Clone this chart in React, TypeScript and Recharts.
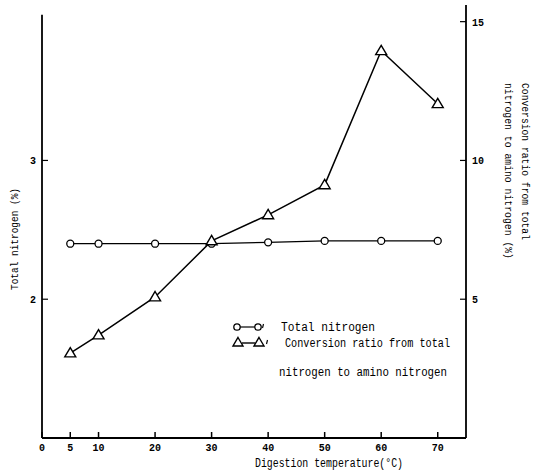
import React from 'react';
import { LineChart, Line, XAxis, YAxis, ReferenceLine } from 'recharts';

const temps = [5, 10, 20, 30, 40, 50, 60, 70];
const totalNitrogen = [2.4, 2.4, 2.4, 2.4, 2.41, 2.42, 2.42, 2.42];
const conversionRatio = [3.06, 3.71, 5.08, 7.1, 8.04, 9.12, 13.95, 12.04];
const xTicks = [0, 5, 10, 20, 30, 40, 50, 60, 70];
const leftTicks = [2, 3];
const rightTicks = [5, 10, 15];

const data = temps.map((t, i) => ({ t, tn: totalNitrogen[i], cr: conversionRatio[i] }));

const FONT = '"Liberation Mono", "DejaVu Sans Mono", monospace';

const XTick = (props: any) => {
  const { x, y, payload } = props;
  return (
    <g>
      <line x1={x} x2={x} y1={y} y2={y - 6} stroke="#000" strokeWidth={1.5} />
      <text x={x} y={y + 13} textAnchor="middle" fontSize={10} fontWeight="bold" fontFamily={FONT} fill="#000">
        {payload.value}
      </text>
    </g>
  );
};

const LeftTick = (props: any) => {
  const { x, y, payload } = props;
  return (
    <g>
      <line x1={x} x2={x + 6} y1={y} y2={y} stroke="#000" strokeWidth={1.2} />
      <text x={x - 6} y={y + 4} textAnchor="end" fontSize={10} fontWeight="bold" fontFamily={FONT} fill="#000">
        {payload.value}
      </text>
    </g>
  );
};

const RightTick = (props: any) => {
  const { x, y, payload } = props;
  return (
    <g>
      <line x1={x} x2={x - 6} y1={y} y2={y} stroke="#000" strokeWidth={1.2} />
      <text x={x + 6} y={y + 4} textAnchor="start" fontSize={10} fontWeight="bold" fontFamily={FONT} fill="#000">
        {payload.value}
      </text>
    </g>
  );
};

const CircleDot = (props: any) => {
  const { cx, cy, index } = props;
  return <circle key={index} cx={cx} cy={cy} r={3.5} fill="#fff" stroke="#000" strokeWidth={1.3} />;
};

const TriDot = (props: any) => {
  const { cx, cy, index } = props;
  const s = 5.5;
  return (
    <path
      key={index}
      d={`M${cx},${cy - s} L${cx + s},${cy + s * 0.7} L${cx - s},${cy + s * 0.7} Z`}
      fill="#fff"
      stroke="#000"
      strokeWidth={1.4}
    />
  );
};

const LegendBox = () => (
  <g transform="translate(225,312)">
    <line x1={14} x2={31} y1={15} y2={15} stroke="#000" strokeWidth={1.2} />
    <circle cx={12} cy={15} r={3.2} fill="#fff" stroke="#000" strokeWidth={1.3} />
    <circle cx={33} cy={15} r={3.2} fill="#fff" stroke="#000" strokeWidth={1.3} />
    <line x1={38.5} x2={37.5} y1={12} y2={16} stroke="#000" strokeWidth={1.2} />
    <text x={56} y={19} fontSize={12} fontFamily={FONT} fill="#000" textLength={94} lengthAdjust="spacingAndGlyphs">
      Total nitrogen
    </text>
    <line x1={17} x2={30} y1={31} y2={31} stroke="#000" strokeWidth={1.4} />
    <path d="M13,25.5 L18,34 L8,34 Z" fill="#fff" stroke="#000" strokeWidth={1.4} />
    <path d="M34,25.5 L39,34 L29,34 Z" fill="#fff" stroke="#000" strokeWidth={1.4} />
    <line x1={42.5} x2={41.5} y1={28} y2={32} stroke="#000" strokeWidth={1.2} />
    <text x={60} y={35} fontSize={12} fontFamily={FONT} fill="#000" textLength={165} lengthAdjust="spacingAndGlyphs">
      Conversion ratio from total
    </text>
    <text x={54} y={64} fontSize={12} fontFamily={FONT} fill="#000" textLength={168} lengthAdjust="spacingAndGlyphs">
      nitrogen to amino nitrogen
    </text>
  </g>
);

export default function App() {
  return (
    <div style={{ position: 'absolute', left: 0, top: 0, width: 544, height: 474, background: '#fff' }}>
      <LineChart width={544} height={474} data={data} margin={{ top: 5, right: 0, bottom: 0, left: 0 }}>
        <XAxis
          dataKey="t"
          type="number"
          domain={[0, 75]}
          ticks={xTicks}
          allowDataOverflow
          height={36}
          tickSize={0}
          tickMargin={0}
          tickLine={false}
          tick={<XTick />}
          axisLine={{ stroke: '#000', strokeWidth: 1.8 }}
          interval={0}
        />
        <YAxis
          yAxisId="left"
          orientation="left"
          type="number"
          domain={[1, 4.12]}
          allowDataOverflow
          ticks={leftTicks}
          width={42}
          tickSize={0}
          tickMargin={0}
          tickLine={false}
          tick={<LeftTick />}
          axisLine={false}
          interval={0}
        />
        <YAxis
          yAxisId="right"
          orientation="right"
          type="number"
          domain={[0, 15.6]}
          allowDataOverflow
          ticks={rightTicks}
          width={78}
          tickSize={0}
          tickMargin={0}
          tickLine={false}
          tick={<RightTick />}
          axisLine={{ stroke: '#000', strokeWidth: 1.8 }}
          interval={0}
        />
        <ReferenceLine
          yAxisId="left"
          segment={[{ x: 0, y: 1 }, { x: 0, y: 4.05 }]}
          stroke="#000"
          strokeWidth={1.8}
          ifOverflow="visible"
        />
        <Line
          yAxisId="left"
          dataKey="tn"
          stroke="#000"
          strokeWidth={1.2}
          dot={<CircleDot />}
          isAnimationActive={false}
        />
        <Line
          yAxisId="right"
          dataKey="cr"
          stroke="#000"
          strokeWidth={1.5}
          dot={<TriDot />}
          isAnimationActive={false}
        />
      </LineChart>
      <svg width={544} height={474} style={{ position: 'absolute', left: 0, top: 0, pointerEvents: 'none' }}>
        <LegendBox />
        <text x={255} y={467} fontSize={12} fontFamily={FONT} fill="#000" textLength={148} lengthAdjust="spacingAndGlyphs">
          Digestion temperature(°C)
        </text>
        <text
          transform="translate(18,239) rotate(-90)"
          textAnchor="middle"
          fontSize={11}
          fontFamily={FONT}
          fill="#000"
          textLength={102}
          lengthAdjust="spacingAndGlyphs"
        >
          Total nitrogen (%)
        </text>
        <text
          transform="translate(522,83) rotate(90)"
          textAnchor="start"
          fontSize={11}
          fontFamily={FONT}
          fill="#000"
          textLength={157}
          lengthAdjust="spacingAndGlyphs"
        >
          Conversion ratio from total
        </text>
        <text
          transform="translate(505,83) rotate(90)"
          textAnchor="start"
          fontSize={11}
          fontFamily={FONT}
          fill="#000"
          textLength={176}
          lengthAdjust="spacingAndGlyphs"
        >
          nitrogen to amino nitrogen (%)
        </text>
      </svg>
    </div>
  );
}
